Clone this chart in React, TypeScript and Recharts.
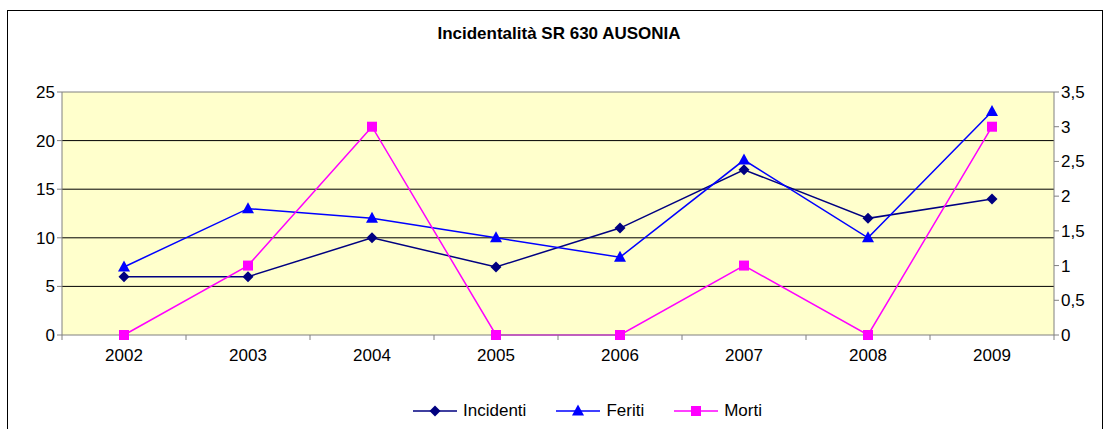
import {
  LineChart, Line, XAxis, YAxis, CartesianGrid, ReferenceLine, Legend
} from 'recharts';

// values
const years = ['2002', '2003', '2004', '2005', '2006', '2007', '2008', '2009'];
const incidenti = [6, 6, 10, 7, 11, 17, 12, 14];
const feriti = [7, 13, 12, 10, 8, 18, 10, 23];
const morti = [0, 1, 3, 0, 0, 1, 0, 3];

const leftTicks = [0, 5, 10, 15, 20, 25];
const rightTicks = [0, 0.5, 1, 1.5, 2, 2.5, 3, 3.5];
const gridValues = [5, 10, 15, 20];

const data = years.map((y, i) => ({
  year: y,
  Incidenti: incidenti[i],
  Feriti: feriti[i],
  Morti: morti[i],
}));

const NAVY = '#000080';
const BLUE = '#0000FF';
const PINK = '#FF00FF';
const FONT = 'Liberation Sans, Arial, sans-serif';
const FS = 17;

const Diamond = ({ cx, cy, color }: any) => (
  <polygon points={`${cx},${cy - 5.5} ${cx + 5.5},${cy} ${cx},${cy + 5.5} ${cx - 5.5},${cy}`} fill={color} />
);
const Triangle = ({ cx, cy, color }: any) => (
  <polygon points={`${cx},${cy - 6.5} ${cx + 6},${cy + 4.5} ${cx - 6},${cy + 4.5}`} fill={color} />
);
const Square = ({ cx, cy, color }: any) => (
  <rect x={cx - 5} y={cy - 5} width={10} height={10} fill={color} />
);

const markerFor = (name: string, cx: number, cy: number) => {
  if (name === 'Incidenti') return <Diamond cx={cx} cy={cy} color={NAVY} />;
  if (name === 'Feriti') return <Triangle cx={cx} cy={cy} color={BLUE} />;
  return <Square cx={cx} cy={cy} color={PINK} />;
};

const legendItems = [
  { name: 'Incidenti', color: NAVY },
  { name: 'Feriti', color: BLUE },
  { name: 'Morti', color: PINK },
];

const LegendContent = () => (
  <div style={{ display: 'flex', justifyContent: 'center', fontFamily: FONT, fontSize: FS, paddingLeft: 100 }}>
    {legendItems.map((it) => (
      <div key={it.name} style={{ display: 'flex', alignItems: 'center', marginRight: 30 }}>
        <svg width={44} height={14}>
          <line x1={0} y1={7} x2={44} y2={7} stroke={it.color} strokeWidth={1.5} />
          {markerFor(it.name, 22, 7)}
        </svg>
        <span style={{ marginLeft: 6 }}>{it.name}</span>
      </div>
    ))}
  </div>
);

// category label plus a tick mark at the band boundary (Excel style)
const YearTick = ({ x, y, payload, index }: any) => {
  const half = 62;
  return (
    <g>
      <line x1={x + half} y1={y - 8} x2={x + half} y2={y - 3} stroke="#808080" />
      {index === 0 && <line x1={x - half} y1={y - 8} x2={x - half} y2={y - 3} stroke="#808080" />}
      <text x={x} y={y + 18} textAnchor="middle" fontFamily={FONT} fontSize={FS} fill="#000">
        {payload.value}
      </text>
    </g>
  );
};

const App = () => (
  <div style={{ position: 'absolute', left: 0, top: 0, width: 1103, height: 429, background: '#fff', overflow: 'hidden' }}>
    <div style={{ position: 'absolute', left: 7, top: 10, width: 1094, height: 430, border: '1px solid #000' }} />
    <div style={{
      position: 'absolute', left: 0, top: 24, width: 1118, textAlign: 'center',
      fontFamily: FONT, fontSize: FS, fontWeight: 'bold'
    }}>
      Incidentalità SR 630 AUSONIA
    </div>
    <div style={{ position: 'absolute', left: 0, top: 0 }}>
      <LineChart width={1103} height={429} data={data} margin={{ top: 92, right: 0, left: 2, bottom: 44 }}>
        <CartesianGrid horizontal={false} vertical={false} fill="#FFFFCC" yAxisId="left" />
        {gridValues.map((v) => (
          <ReferenceLine key={v} y={v} yAxisId="left" stroke="#000" strokeWidth={1} />
        ))}
        <ReferenceLine y={25} yAxisId="left" stroke="#808080" />
        <XAxis
          dataKey="year"
          scale="band"
          axisLine={{ stroke: '#808080' }}
          tickLine={false}
          tick={<YearTick />}
          interval={0}
        />
        <YAxis
          yAxisId="left"
          domain={[0, 25]}
          ticks={leftTicks}
          width={60}
          axisLine={{ stroke: '#808080' }}
          tickLine={{ stroke: '#808080' }}
          tickSize={5}
          tick={{ fontFamily: FONT, fontSize: FS, fill: '#000' }}
        />
        <YAxis
          yAxisId="right"
          orientation="right"
          domain={[0, 3.5]}
          ticks={rightTicks}
          width={49}
          axisLine={{ stroke: '#808080' }}
          tickLine={{ stroke: '#808080' }}
          tickSize={5}
          tickFormatter={(v: number) => String(v).replace('.', ',')}
          tick={{ fontFamily: FONT, fontSize: FS, fill: '#000' }}
        />
        <Line yAxisId="left" dataKey="Incidenti" stroke={NAVY} strokeWidth={1.5}
          dot={(p: any) => <Diamond key={p.index} cx={p.cx} cy={p.cy} color={NAVY} />}
          isAnimationActive={false} />
        <Line yAxisId="left" dataKey="Feriti" stroke={BLUE} strokeWidth={1.5}
          dot={(p: any) => <Triangle key={p.index} cx={p.cx} cy={p.cy} color={BLUE} />}
          isAnimationActive={false} />
        <Line yAxisId="right" dataKey="Morti" stroke={PINK} strokeWidth={1.5}
          dot={(p: any) => <Square key={p.index} cx={p.cx} cy={p.cy} color={PINK} />}
          isAnimationActive={false} />
        <Legend
          verticalAlign="bottom"
          content={<LegendContent />}
          wrapperStyle={{ bottom: 8 }}
        />
      </LineChart>
    </div>
  </div>
);

export default App;
